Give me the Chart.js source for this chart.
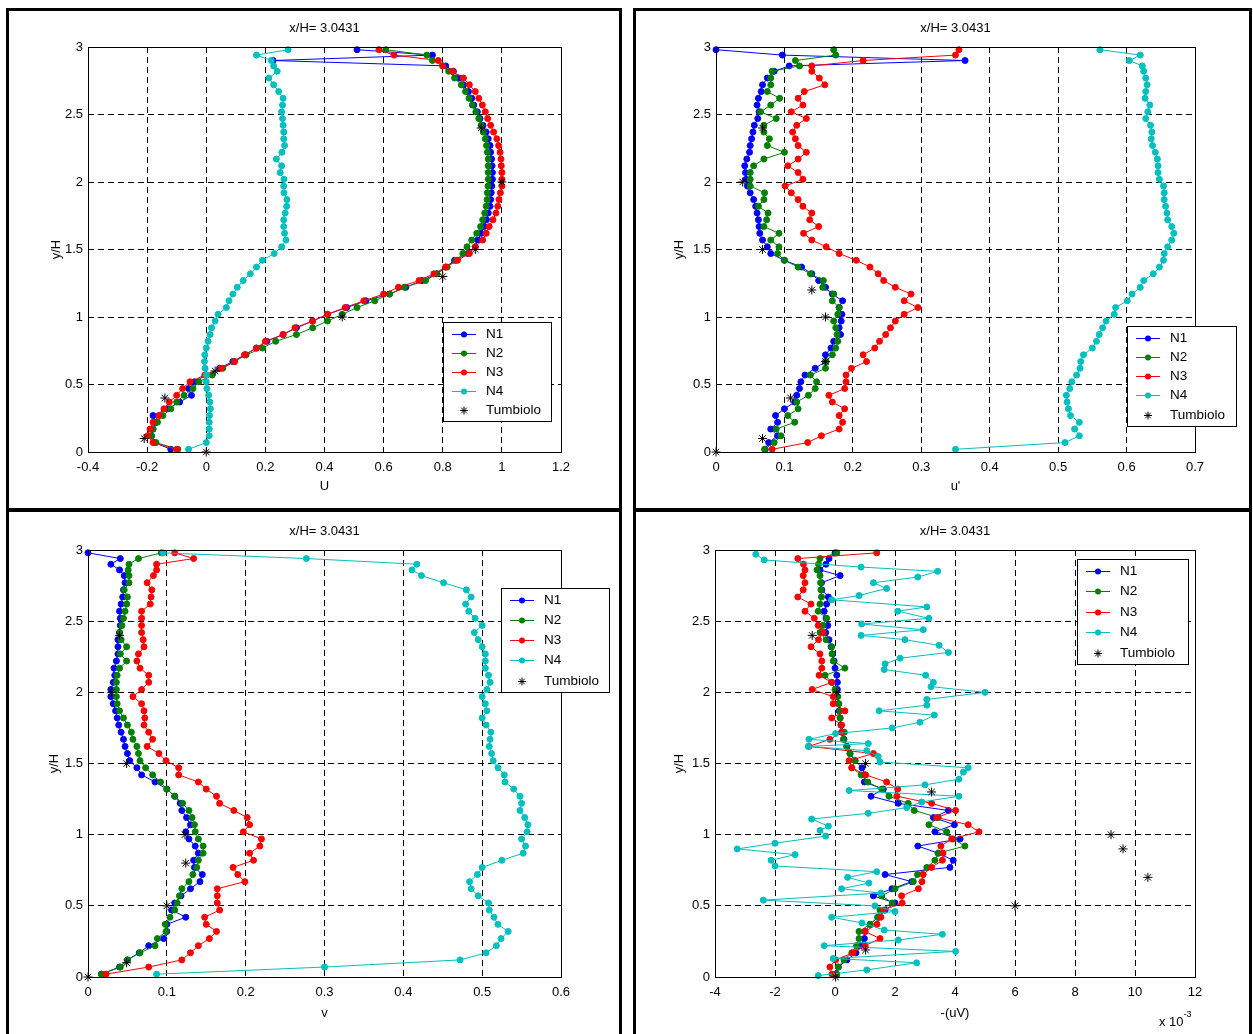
<!DOCTYPE html>
<html>
<head>
<meta charset="utf-8">
<script src="https://cdn.jsdelivr.net/npm/chart.js@4.4.1/dist/chart.umd.min.js"></script>
<style>
  body { margin: 0; background: #fff; width: 1253px; height: 1034px; overflow: hidden; position: relative; }
  .frame { position: absolute; border: 3px solid #000; box-sizing: border-box; }
  canvas { position: absolute; }
</style>
</head>
<body>
<div class="frame" style="left:6px;top:8px;width:616px;height:503px"></div>
<div class="frame" style="left:633px;top:8px;width:619px;height:503px"></div>
<div class="frame" style="left:6px;top:509px;width:616px;height:530px"></div>
<div class="frame" style="left:633px;top:509px;width:619px;height:530px"></div>

<canvas id="cU" width="610" height="497" style="left:9px;top:11px"></canvas>
<canvas id="cUrms" width="612" height="497" style="left:636px;top:11px"></canvas>
<canvas id="cVrms" width="610" height="521" style="left:9px;top:513px"></canvas>
<canvas id="cUV" width="612" height="521" style="left:636px;top:513px"></canvas>

<script>
// y/H positions shared by the N1..N3 profiles (and N4 of the first three panels)
const yPos = [0.02,0.07,0.12,0.17,0.22,0.27,0.32,0.37,0.42,0.47,
  0.52,0.57,0.62,0.67,0.72,0.77,0.82,0.87,0.92,0.97,
  1.02,1.07,1.12,1.17,1.22,1.27,1.32,1.37,1.42,1.47,
  1.52,1.57,1.62,1.67,1.72,1.77,1.82,1.87,1.92,1.97,
  2.02,2.07,2.12,2.17,2.22,2.27,2.32,2.37,2.42,2.47,
  2.52,2.57,2.62,2.67,2.72,2.77,2.82,2.86,2.90,2.94,2.98];

// --- U ---
const U_N1 = [-0.12,-0.175,-0.185,-0.18,-0.17,-0.18,-0.13,-0.09,-0.05,-0.06,
  -0.04,0.0,0.045,0.09,0.13,0.17,0.205,0.26,0.305,0.36,
  0.41,0.475,0.54,0.62,0.675,0.73,0.78,0.81,0.84,0.885,
  0.91,0.918,0.93,0.94,0.948,0.954,0.96,0.962,0.964,0.966,
  0.968,0.968,0.967,0.965,0.962,0.96,0.954,0.947,0.936,0.926,
  0.917,0.905,0.898,0.887,0.87,0.855,0.836,0.81,0.226,0.765,0.51];
const U_N2 = [-0.096,-0.17,-0.185,-0.18,-0.165,-0.147,-0.12,-0.1,-0.075,-0.045,
  -0.025,0.02,0.056,0.095,0.135,0.19,0.235,0.305,0.36,0.41,
  0.46,0.51,0.57,0.62,0.67,0.742,0.78,0.815,0.845,0.868,
  0.882,0.898,0.915,0.928,0.935,0.942,0.947,0.95,0.951,0.953,
  0.954,0.954,0.954,0.954,0.951,0.948,0.944,0.937,0.93,0.922,
  0.912,0.9,0.889,0.877,0.863,0.84,0.82,0.80,0.765,0.746,0.607];
const U_N3 = [-0.10,-0.18,-0.198,-0.19,-0.18,-0.16,-0.143,-0.125,-0.10,-0.08,
  -0.055,-0.005,0.05,0.096,0.13,0.17,0.20,0.26,0.30,0.36,
  0.41,0.47,0.533,0.6,0.65,0.72,0.77,0.81,0.85,0.89,
  0.91,0.935,0.947,0.957,0.97,0.98,0.986,0.99,0.995,1.0,
  1.0,1.0,0.998,0.997,0.994,0.989,0.983,0.972,0.962,0.952,
  0.944,0.934,0.922,0.91,0.89,0.87,0.833,0.80,0.785,0.635,0.584];
const U_N4 = [-0.06,0.0,0.01,0.01,0.01,0.011,0.014,0.012,0.008,0.002,
  0.0,0.0,-0.004,-0.006,-0.005,0.0,0.006,0.013,0.018,0.03,
  0.04,0.068,0.077,0.09,0.105,0.125,0.149,0.17,0.19,0.23,
  0.255,0.27,0.265,0.262,0.262,0.267,0.272,0.273,0.263,0.262,
  0.263,0.25,0.255,0.237,0.256,0.265,0.262,0.262,0.26,0.258,
  0.255,0.258,0.26,0.245,0.228,0.212,0.24,0.228,0.22,0.17,0.277];
const U_tumbX = [0, -0.21, -0.14, 0.03, 0.46, 0.8, 0.91, 1.0, 0.93];
const U_tumbY = [0, 0.1, 0.4, 0.6, 1.0, 1.3, 1.5, 2.0, 2.4];

// --- u' ---
const urms_N1 = [0.072,0.077,0.09,0.08,0.09,0.087,0.1,0.115,0.118,0.122,
  0.124,0.13,0.145,0.16,0.16,0.168,0.172,0.182,0.18,0.183,
  0.184,0.18,0.185,0.17,0.16,0.15,0.14,0.125,0.1,0.08,
  0.075,0.068,0.064,0.063,0.062,0.06,0.058,0.055,0.05,0.046,
  0.044,0.043,0.042,0.045,0.049,0.05,0.052,0.054,0.056,0.061,
  0.063,0.06,0.062,0.066,0.068,0.075,0.085,0.107,0.364,0.097,0.0];
const urms_N2 = [0.071,0.085,0.095,0.088,0.115,0.105,0.12,0.118,0.135,0.145,
  0.147,0.138,0.16,0.161,0.17,0.175,0.178,0.177,0.175,0.172,
  0.178,0.18,0.17,0.172,0.156,0.157,0.138,0.12,0.1,0.09,
  0.092,0.08,0.092,0.07,0.074,0.076,0.062,0.07,0.071,0.05,
  0.05,0.05,0.055,0.07,0.1,0.075,0.078,0.07,0.07,0.088,
  0.065,0.08,0.093,0.075,0.08,0.08,0.082,0.122,0.116,0.175,0.172];
const urms_N3 = [0.082,0.134,0.154,0.18,0.185,0.18,0.188,0.17,0.165,0.188,
  0.19,0.19,0.198,0.22,0.215,0.232,0.239,0.248,0.255,0.262,
  0.275,0.295,0.275,0.285,0.262,0.245,0.237,0.225,0.205,0.18,
  0.161,0.14,0.128,0.15,0.137,0.14,0.127,0.12,0.11,0.101,
  0.127,0.12,0.105,0.12,0.132,0.12,0.116,0.112,0.118,0.132,
  0.11,0.127,0.12,0.129,0.159,0.151,0.14,0.14,0.215,0.35,0.355];
const urms_N4 = [0.35,0.51,0.531,0.524,0.531,0.518,0.515,0.513,0.512,0.517,
  0.52,0.527,0.532,0.533,0.537,0.55,0.556,0.56,0.565,0.57,
  0.582,0.584,0.601,0.608,0.62,0.625,0.639,0.648,0.654,0.655,
  0.66,0.666,0.669,0.666,0.66,0.659,0.657,0.655,0.655,0.654,
  0.648,0.646,0.646,0.645,0.642,0.638,0.636,0.637,0.635,0.628,
  0.631,0.634,0.627,0.628,0.63,0.628,0.625,0.623,0.604,0.62,0.561];
const urms_tumbX = [0, 0.068, 0.109, 0.16, 0.16, 0.14, 0.068, 0.039, 0.068];
const urms_tumbY = [0, 0.1, 0.4, 0.67, 1.0, 1.2, 1.5, 2.0, 2.4];

// --- v' ---
const vrms_N1 = [0.017,0.04,0.05,0.065,0.077,0.096,0.1,0.1,0.124,0.106,
  0.11,0.118,0.13,0.142,0.145,0.135,0.134,0.14,0.136,0.128,
  0.124,0.13,0.125,0.119,0.117,0.11,0.1,0.085,0.068,0.062,
  0.053,0.05,0.047,0.045,0.042,0.039,0.037,0.035,0.032,0.029,
  0.029,0.032,0.034,0.033,0.036,0.038,0.038,0.038,0.04,0.041,
  0.041,0.04,0.042,0.044,0.045,0.047,0.046,0.04,0.029,0.041,0.0];
const vrms_N2 = [0.017,0.041,0.05,0.066,0.085,0.088,0.099,0.098,0.104,0.11,
  0.113,0.116,0.119,0.128,0.133,0.138,0.14,0.146,0.146,0.14,
  0.136,0.135,0.132,0.128,0.12,0.11,0.1,0.092,0.082,0.073,
  0.066,0.064,0.062,0.057,0.055,0.05,0.045,0.04,0.037,0.036,
  0.036,0.036,0.037,0.04,0.049,0.041,0.049,0.042,0.04,0.043,
  0.045,0.047,0.049,0.05,0.046,0.052,0.052,0.051,0.052,0.064,0.093];
const vrms_N3 = [0.023,0.077,0.119,0.13,0.14,0.154,0.163,0.15,0.148,0.167,
  0.164,0.164,0.164,0.199,0.19,0.184,0.21,0.205,0.218,0.22,
  0.197,0.205,0.202,0.185,0.167,0.163,0.15,0.14,0.115,0.115,
  0.099,0.09,0.075,0.082,0.077,0.071,0.072,0.071,0.068,0.057,
  0.068,0.077,0.077,0.066,0.062,0.064,0.071,0.07,0.068,0.068,
  0.068,0.068,0.079,0.08,0.081,0.075,0.083,0.087,0.087,0.134,0.11];
const vrms_N4 = [0.087,0.30,0.472,0.505,0.518,0.524,0.533,0.52,0.515,0.509,
  0.508,0.495,0.486,0.484,0.494,0.5,0.525,0.552,0.555,0.55,
  0.557,0.558,0.554,0.548,0.55,0.548,0.54,0.529,0.528,0.52,
  0.514,0.512,0.509,0.51,0.511,0.505,0.5,0.506,0.504,0.5,
  0.506,0.51,0.508,0.504,0.504,0.504,0.5,0.495,0.49,0.5,
  0.491,0.483,0.479,0.486,0.48,0.451,0.423,0.411,0.417,0.277,0.095];
const vrms_tumbX = [0, 0.049, 0.1, 0.124, 0.123, 0.049, 0.03, 0.04];
const vrms_tumbY = [0, 0.1, 0.5, 0.8, 1.0, 1.5, 2.0, 2.4];

// --- -(uv) x 10^-3 ---
const uv_N1 = [0.0,0.11,0.4,0.7,0.85,0.98,1.0,1.17,1.44,1.67,
  2.0,1.28,1.9,2.56,1.67,3.83,3.94,3.44,2.76,4.17,
  3.33,3.98,3.28,3.78,2.11,1.2,1.61,0.98,1.0,0.9,
  0.67,0.5,0.4,0.3,0.22,0.2,0.17,0.14,0.11,0.07,
  0.08,0.08,0.06,0.0,-0.03,-0.08,-0.13,-0.2,-0.31,-0.24,
  -0.3,-0.36,-0.28,-0.22,-0.44,-0.45,0.17,-0.5,-0.3,-0.2,0.0];
const uv_N2 = [0.06,0.11,0.3,0.56,0.72,0.8,0.8,1.17,1.42,1.5,
  1.91,1.56,2.0,2.61,2.75,3.06,3.33,3.44,4.33,3.94,
  3.72,3.13,3.44,2.64,2.44,1.8,1.56,1.09,0.87,0.56,
  0.67,0.5,0.39,0.28,0.31,0.2,0.17,0.17,0.13,0.09,
  0.0,-0.11,-0.33,0.33,-0.06,-0.1,-0.11,-0.3,-0.5,-0.4,
  -0.28,-0.56,-0.5,-0.45,-0.47,-0.48,-0.5,-0.6,-0.55,-0.5,0.06];
const uv_N3 = [-0.1,-0.17,0.02,0.6,1.0,1.5,1.0,1.4,1.53,1.61,
  2.24,2.22,2.78,2.9,2.94,3.22,3.58,3.6,3.53,3.89,
  4.8,4.44,3.39,4.02,3.22,2.06,2.09,1.72,1.02,0.56,
  0.47,1.28,-0.87,-0.17,0.24,0.22,-0.11,0.33,-0.06,-0.06,
  -0.76,-0.11,-0.53,-0.44,-0.44,-0.5,-0.8,-0.55,-0.39,-0.56,
  -0.69,-1.0,-0.8,-1.24,-1.06,-1.0,-1.06,-1.0,-1.05,-1.24,1.39];
// N4 of this panel is sampled on its own y/H positions
const uv_N4Y = [0.01,0.05,0.10,0.13,0.18,0.22,0.26,0.30,0.33,0.38,
  0.42,0.46,0.50,0.54,0.59,0.62,0.66,0.70,0.74,0.78,
  0.82,0.86,0.90,0.94,0.99,1.03,1.06,1.11,1.15,1.19,
  1.23,1.27,1.31,1.35,1.39,1.44,1.47,1.51,1.55,1.59,
  1.62,1.64,1.67,1.71,1.75,1.79,1.84,1.87,1.91,1.95,
  2.00,2.04,2.07,2.12,2.16,2.20,2.24,2.28,2.33,2.37,
  2.40,2.44,2.48,2.52,2.57,2.60,2.65,2.68,2.73,2.77,
  2.81,2.85,2.88,2.93,2.97];
const uv_N4 = [-0.56,1.06,2.72,-0.06,4.02,-0.36,2.11,3.58,1.64,0.9,
  -0.11,2.0,1.33,-2.39,1.53,0.22,1.13,0.42,1.39,-2.0,
  -2.13,-1.33,-3.26,-2.0,-0.31,-0.5,-0.22,-0.78,1.11,2.39,
  2.89,4.13,0.47,3.0,4.13,4.28,4.44,1.5,1.44,1.06,
  -0.89,1.11,-0.87,0.02,1.91,2.83,3.31,1.47,3.06,3.06,
  5.0,3.2,3.28,3.02,1.64,1.67,2.17,3.78,3.47,2.33,
  0.87,2.94,0.89,3.13,2.09,3.06,-0.11,0.8,1.72,1.28,
  2.76,3.42,0.87,-2.36,-2.64];
const uv_tumbX = [0.02, 1.02, 6.0, 10.43, 9.6, 9.2, 3.22, 1.02, 0.06, -0.76];
const uv_tumbY = [0, 0.19, 0.5, 0.7, 0.9, 1.0, 1.3, 1.5, 2.0, 2.4];

const FONT = '"Liberation Sans", Arial, sans-serif';
Chart.defaults.font.family = FONT;
Chart.defaults.font.size = 13;
Chart.defaults.color = '#000';

const colors = { N1: '#0000ff', N2: '#008000', N3: '#ff0000', N4: '#00bfbf' };

function pts(xs, ys) {
  return xs.map((x, i) => ({ x: x, y: ys[i] }));
}

// MATLAB style tick text: 1 instead of 1.0
function tickText(v) {
  return String(Number(Number(v).toFixed(3)));
}

function lineSet(label, xs, ys, order) {
  const c = colors[label];
  return {
    label: label, data: pts(xs, ys), showLine: true, order: order,
    borderColor: c, backgroundColor: c, borderWidth: 1,
    pointRadius: 3, pointBorderWidth: 1, pointHoverRadius: 3, clip: false
  };
}

function tumbSet(xs, ys) {
  return {
    label: 'Tumbiolo', data: pts(xs, ys), showLine: false, order: 0,
    pointStyle: 'star', pointRadius: 4.5, pointBorderWidth: 1,
    borderColor: '#000', backgroundColor: '#000', clip: false
  };
}

// draws the box, the title, a MATLAB-like legend and the exponent note
const deco = {
  id: 'deco',
  afterDraw(chart, args, o) {
    const ctx = chart.ctx;
    const a = chart.chartArea;
    ctx.save();
    ctx.strokeStyle = '#000';
    ctx.lineWidth = 1;
    ctx.setLineDash([]);
    ctx.strokeRect(Math.round(a.left) + 0.5, Math.round(a.top) + 0.5,
      Math.round(a.right - a.left), Math.round(a.bottom - a.top));

    ctx.fillStyle = '#000';
    ctx.font = '13px ' + FONT;
    ctx.textAlign = 'center';
    ctx.textBaseline = 'middle';
    ctx.fillText(o.title, (a.left + a.right) / 2, a.top - 19);

    // legend
    const L = o.legend;
    ctx.fillStyle = '#fff';
    ctx.fillRect(L.x, L.y, L.w, L.h);
    ctx.strokeRect(L.x + 0.5, L.y + 0.5, L.w, L.h);
    const step = (L.h - 23) / 4;
    ctx.font = '13.5px ' + FONT;
    ctx.textAlign = 'left';
    chart.data.datasets.forEach((ds, i) => {
      const yy = Math.round(L.y + 11.5 + i * step) + 0.5;
      const mx = L.x + 21;
      ctx.strokeStyle = ds.borderColor;
      ctx.fillStyle = ds.backgroundColor;
      if (ds.showLine) {
        ctx.beginPath();
        ctx.moveTo(L.x + 9, yy);
        ctx.lineTo(L.x + 33, yy);
        ctx.stroke();
        ctx.beginPath();
        ctx.arc(mx, yy, 3, 0, Math.PI * 2);
        ctx.fill();
      } else {
        const r = 4;
        ctx.beginPath();
        ctx.moveTo(mx - r, yy); ctx.lineTo(mx + r, yy);
        ctx.moveTo(mx, yy - r); ctx.lineTo(mx, yy + r);
        ctx.moveTo(mx - r * 0.7, yy - r * 0.7); ctx.lineTo(mx + r * 0.7, yy + r * 0.7);
        ctx.moveTo(mx - r * 0.7, yy + r * 0.7); ctx.lineTo(mx + r * 0.7, yy - r * 0.7);
        ctx.stroke();
      }
      ctx.fillStyle = '#000';
      ctx.fillText(ds.label, L.x + 43, yy);
    });

    if (o.exp) {
      ctx.font = '13px ' + FONT;
      ctx.textBaseline = 'alphabetic';
      ctx.fillText('x 10', o.exp.x, o.exp.y);
      const w = ctx.measureText('x 10').width;
      ctx.font = '9px ' + FONT;
      ctx.fillText('-3', o.exp.x + w, o.exp.y - 9);
    }
    ctx.restore();
  }
};

function makePanel(id, p) {
  new Chart(document.getElementById(id), {
    type: 'scatter',
    data: {
      datasets: [
        lineSet('N1', p.n1, p.y, 4),
        lineSet('N2', p.n2, p.y, 3),
        lineSet('N3', p.n3, p.y, 2),
        lineSet('N4', p.n4, p.n4y || p.y, 1),
        tumbSet(p.tx, p.ty)
      ]
    },
    options: {
      responsive: false,
      animation: false,
      devicePixelRatio: 1,
      events: [],
      layout: { padding: { top: p.top, right: p.right, left: 0, bottom: 0 } },
      plugins: {
        legend: { display: false },
        tooltip: { enabled: false },
        deco: { title: 'x/H= 3.0431', legend: p.legend, exp: p.exp }
      },
      scales: {
        x: {
          type: 'linear', min: p.xMin, max: p.xMax,
          ticks: { stepSize: p.xStep, padding: 8, color: '#000', callback: tickText },
          grid: { color: '#000', lineWidth: 1, drawTicks: false },
          border: { display: false, dash: [6, 4] },
          title: { display: true, text: p.xTitle, color: '#000', padding: { top: 0, bottom: p.xTitlePad } },
          afterFit: s => { s.height = p.xAxisH; }
        },
        y: {
          type: 'linear', min: 0, max: 3,
          ticks: { stepSize: 0.5, padding: 5, color: '#000', callback: tickText },
          grid: { color: '#000', lineWidth: 1, drawTicks: false },
          border: { display: false, dash: [6, 4] },
          title: { display: true, text: 'y/H', color: '#000', padding: { top: p.yTitlePad, bottom: 0 } },
          afterFit: s => { s.width = p.yAxisW; }
        }
      }
    },
    plugins: [deco]
  });
}

makePanel('cU', {
  y: yPos, n1: U_N1, n2: U_N2, n3: U_N3, n4: U_N4, tx: U_tumbX, ty: U_tumbY,
  xMin: -0.4, xMax: 1.2, xStep: 0.2, xTitle: 'U',
  top: 36, right: 58, yAxisW: 79, xAxisH: 56, xTitlePad: 14, yTitlePad: 40,
  legend: { x: 434, y: 311, w: 108, h: 99 }
});
makePanel('cUrms', {
  y: yPos, n1: urms_N1, n2: urms_N2, n3: urms_N3, n4: urms_N4, tx: urms_tumbX, ty: urms_tumbY,
  xMin: 0, xMax: 0.7, xStep: 0.1, xTitle: "u'",
  top: 36, right: 53, yAxisW: 80, xAxisH: 56, xTitlePad: 14, yTitlePad: 36,
  legend: { x: 491, y: 315, w: 109, h: 100 }
});
makePanel('cVrms', {
  y: yPos, n1: vrms_N1, n2: vrms_N2, n3: vrms_N3, n4: vrms_N4, tx: vrms_tumbX, ty: vrms_tumbY,
  xMin: 0, xMax: 0.6, xStep: 0.1, xTitle: 'v',
  top: 37, right: 58, yAxisW: 79, xAxisH: 57, xTitlePad: 13, yTitlePad: 38,
  legend: { x: 492, y: 75, w: 108, h: 104 }
});
makePanel('cUV', {
  y: yPos, n1: uv_N1, n2: uv_N2, n3: uv_N3, n4: uv_N4, n4y: uv_N4Y, tx: uv_tumbX, ty: uv_tumbY,
  xMin: -4, xMax: 12, xStep: 2, xTitle: '-(uV)',
  top: 37, right: 53, yAxisW: 79, xAxisH: 57, xTitlePad: 13, yTitlePad: 36,
  legend: { x: 441, y: 46, w: 111, h: 105 },
  exp: { x: 523, y: 513 }
});
</script>
</body>
</html>
